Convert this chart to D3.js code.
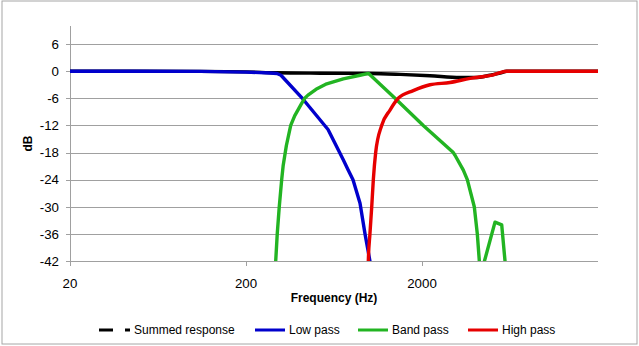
<!DOCTYPE html>
<html><head><meta charset="utf-8">
<script src="https://cdn.jsdelivr.net/npm/d3@7"></script>
<style>body{margin:0;background:#fff}svg{display:block}text{font-family:"Liberation Sans",Arial,sans-serif}</style>
</head><body><svg id="c" width="639" height="346"></svg>
<script>
// ---- data ----
const yTicks = [-42,-36,-30,-24,-18,-12,-6,0,6];
const xTicks = [20,200,2000];
const seriesNames = ["Summed response","Low pass","Band pass","High pass"];
const seriesColors = ["#000000","#0000CC","#22B422","#E60000"];

const sumFreq = [20,110,200,296,527,1012,1500,2221,3288,4000,4870,5548,6054,20000];
const sumDb   = [0,-0.05,-0.15,-0.35,-0.45,-0.5,-0.7,-1.0,-1.4,-1.4,-0.9,-0.45,0,0];

const lowFreq = [20,50,110,200,274,300,316,422,585,714,760,811,889,949,1012,1054];
const lowDb   = [0,0,-0.05,-0.2,-0.4,-0.5,-0.9,-6.2,-12.9,-19.6,-21.8,-24,-29.2,-36,-42,-50];

const bandFreq = [290,295,301,309,319,325,339,359,378,412,431,450,500,575,714,889,995,1405,2034,3012,3080,3434,3618,3964,4124,4234,4386,5198,5675,5925,6000];
const bandDb   = [-50,-42,-36,-30,-24,-21,-16.5,-12,-9.9,-7.3,-6,-5.3,-4.0,-2.8,-1.7,-0.9,-0.5,-6,-12,-18,-18.6,-21.9,-24,-30,-36,-42,-44,-33.4,-34,-42,-50];

const highFreq = [985,991,1012,1036,1058,1091,1180,1316,1466,1784,2221,2884,3749,5084,6054,20000];
const highDb   = [-50,-42,-36,-30,-24,-18,-12,-8.6,-6,-4.3,-3.0,-2.5,-1.6,-0.8,0,0];

const series = [
  {f:sumFreq, v:sumDb, smooth:true},
  {f:lowFreq, v:lowDb, smooth:false},
  {f:bandFreq, v:bandDb, smooth:false},
  {f:highFreq, v:highDb, smooth:true}
];

// ---- drawing ----
const svg = d3.select("#c");
const L=70,R=598,T=26,B=261;
const x = d3.scaleLog().domain([20,20000]).range([L,R]);
const y = d3.scaleLinear().domain([-42,10]).range([B,T]);

svg.append("rect").attr("x",2).attr("y",1).attr("width",635).attr("height",343)
  .attr("fill","#fff").attr("stroke","#a6a6a6").attr("stroke-width",1);

svg.append("defs").append("clipPath").attr("id","clip")
  .append("rect").attr("x",L).attr("y",T-3).attr("width",R-L).attr("height",B-T+3);

// gridlines
svg.append("g").selectAll("line").data(yTicks).join("line")
  .attr("x1",L-4).attr("x2",R).attr("y1",d=>Math.round(y(d))+0.5).attr("y2",d=>Math.round(y(d))+0.5)
  .attr("stroke","#a0a0a0").attr("stroke-width",1);

// y axis line
svg.append("line").attr("x1",L+0.5).attr("x2",L+0.5).attr("y1",T).attr("y2",B+0.5)
  .attr("stroke","#a0a0a0");
// x ticks
svg.append("g").selectAll("line").data(xTicks).join("line")
  .attr("x1",d=>Math.round(x(d))+0.5).attr("x2",d=>Math.round(x(d))+0.5)
  .attr("y1",B).attr("y2",B+5).attr("stroke","#a0a0a0");

// y labels
svg.append("g").selectAll("text").data(yTicks).join("text")
  .attr("x",59).attr("y",d=>y(d)).attr("dy","0.36em").attr("text-anchor","end")
  .attr("font-size","13.3px").attr("fill","#000").text(d=>d);
// x labels
svg.append("g").selectAll("text").data(xTicks).join("text")
  .attr("x",d=>x(d)).attr("y",288).attr("text-anchor","middle")
  .attr("font-size","13.3px").attr("fill","#000").text(d=>d);

svg.append("text").attr("x",334).attr("y",302).attr("text-anchor","middle")
  .attr("font-size","12px").attr("font-weight","bold").text("Frequency (Hz)");
svg.append("text").attr("transform","translate(31.5,143.5) rotate(-90)").attr("text-anchor","middle")
  .attr("font-size","12px").attr("font-weight","bold").text("dB");

// lines
const lineS = d3.line().x(d=>x(d[0])).y(d=>y(d[1])).curve(d3.curveMonotoneX);
const lineL = d3.line().x(d=>x(d[0])).y(d=>y(d[1]));
const g = svg.append("g").attr("clip-path","url(#clip)");
series.forEach((s,i)=>{
  g.append("path").datum(s.f.map((f,j)=>[f,s.v[j]]))
    .attr("d",s.smooth?lineS:lineL).attr("fill","none").attr("stroke",seriesColors[i])
    .attr("stroke-width",3.4).attr("stroke-linejoin","round");
});

// legend
const legX = [99,255,358,468];
const legY = 330;
const lg = svg.append("g");
seriesNames.forEach((n,i)=>{
  if(i===0){
    lg.append("line").attr("x1",legX[i]).attr("x2",legX[i]+14).attr("y1",legY).attr("y2",legY)
      .attr("stroke",seriesColors[i]).attr("stroke-width",3);
    lg.append("line").attr("x1",legX[i]+26).attr("x2",legX[i]+31).attr("y1",legY).attr("y2",legY)
      .attr("stroke",seriesColors[i]).attr("stroke-width",3);
  } else {
    lg.append("line").attr("x1",legX[i]).attr("x2",legX[i]+30).attr("y1",legY).attr("y2",legY)
      .attr("stroke",seriesColors[i]).attr("stroke-width",3);
  }
  lg.append("text").attr("x",i===0?legX[i]+35:legX[i]+34).attr("y",legY+4.3)
    .attr("font-size","12px").attr("fill","#000").text(n);
});
</script></body></html>
